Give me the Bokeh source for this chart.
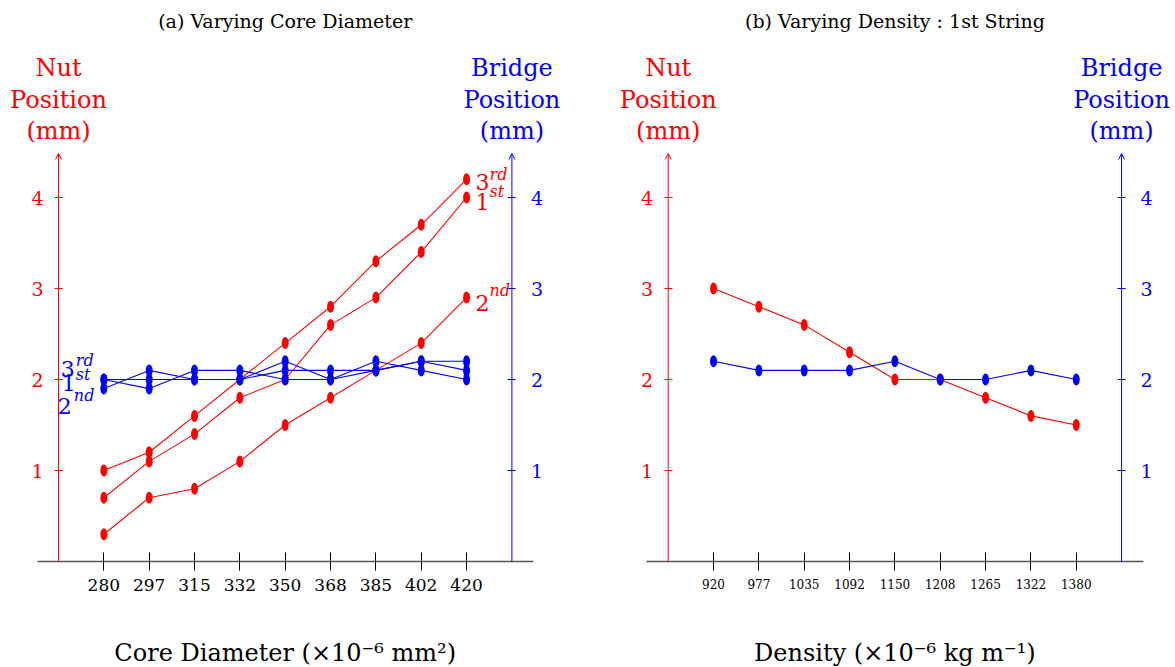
from bokeh.plotting import figure
from bokeh.models import Range1d, LinearAxis, FixedTicker, Label, Arrow, OpenHead
from bokeh.layouts import row
from bokeh.embed import file_html
from bokeh.resources import INLINE
from bokeh.core.properties import value

# ---------------- data ----------------
core_diameter = ["280", "297", "315", "332", "350", "368", "385", "402", "420"]
nut_core_3rd = [1.0, 1.2, 1.6, 2.0, 2.4, 2.8, 3.3, 3.7, 4.2]
nut_core_1st = [0.7, 1.1, 1.4, 1.8, 2.0, 2.6, 2.9, 3.4, 4.0]
nut_core_2nd = [0.3, 0.7, 0.8, 1.1, 1.5, 1.8, 2.1, 2.4, 2.9]
bridge_core_3rd = [2.0, 2.0, 2.0, 2.0, 2.2, 2.0, 2.2, 2.1, 2.0]
bridge_core_1st = [2.0, 1.9, 2.1, 2.1, 2.0, 2.0, 2.1, 2.2, 2.2]
bridge_core_2nd = [1.9, 2.1, 2.0, 2.0, 2.1, 2.1, 2.1, 2.2, 2.1]

density = ["920", "977", "1035", "1092", "1150", "1208", "1265", "1322", "1380"]
nut_density = [3.0, 2.8, 2.6, 2.3, 2.0, 2.0, 1.8, 1.6, 1.5]
bridge_density = [2.2, 2.1, 2.1, 2.1, 2.2, 2.0, 2.0, 2.1, 2.0]

y_ticks = [1, 2, 3, 4]

RED = "#ff0000"
BLUE = "#0000ff"
FONT = "DejaVu Serif"

H = 667
Y0_PX = 561.0        # pixel row of y = 0
PXU_Y = 91.0         # pixels per y unit
PXU_X = 45.34        # pixels per category step
LABEL_SHIFT = 8      # empirical baseline correction for texts


def py(px):
    """canvas pixel row -> data y (for placing texts)"""
    return (Y0_PX - px) / PXU_Y


def ly(px):
    return py(px - LABEL_SHIFT)


def make_panel(width, red_axis_px, cats, tick_size, title, xlabel, nut_list,
               bridge_list, nut_labels, bridge_labels):
    n = len(cats)
    idx = list(range(n))
    x0 = -1 - red_axis_px / PXU_X
    x1 = x0 + width / PXU_X
    p = figure(width=width, height=H,
               x_range=Range1d(x0, x1),
               y_range=Range1d(py(H), py(0)),
               x_axis_type=None, y_axis_type=None,
               min_border=0, min_border_left=0, min_border_right=0,
               min_border_top=0, min_border_bottom=0,
               output_backend="svg", toolbar_location=None)
    p.outline_line_color = None

    xaxis = LinearAxis(ticker=FixedTicker(ticks=idx), fixed_location=0,
                       bounds=(-1.47, n + 0.48),
                       major_label_overrides={i: c for i, c in enumerate(cats)},
                       axis_line_color="#555555", axis_line_width=1.6,
                       major_tick_line_color="black", major_tick_in=9, major_tick_out=9,
                       minor_tick_line_color=None,
                       major_label_text_font=FONT, major_label_text_font_size=tick_size,
                       major_label_standoff=8, major_label_text_color="black")
    p.add_layout(xaxis, "below")

    laxis = LinearAxis(ticker=FixedTicker(ticks=y_ticks), fixed_location=-1,
                       axis_line_color=None,
                       major_tick_line_color=RED, major_tick_in=4, major_tick_out=4,
                       minor_tick_line_color=None,
                       major_label_text_color=RED, major_label_text_font=FONT,
                       major_label_text_font_size="19px", major_label_standoff=11)
    p.add_layout(laxis, "left")

    raxis = LinearAxis(ticker=FixedTicker(ticks=y_ticks), fixed_location=n,
                       axis_line_color=None,
                       major_tick_line_color=BLUE, major_tick_in=4, major_tick_out=4,
                       minor_tick_line_color=None,
                       major_label_text_color=BLUE, major_label_text_font=FONT,
                       major_label_text_font_size="19px", major_label_standoff=15)
    p.add_layout(raxis, "right")

    for xa, col in ((-1, RED), (n, BLUE)):
        p.add_layout(Arrow(end=OpenHead(size=6, line_color=col, line_width=1),
                           x_start=xa, y_start=0, x_end=xa, y_end=py(153),
                           line_color=col, line_width=1))

    for series in nut_list:
        p.line(idx, series, line_color=RED, line_width=1.1)
        p.ellipse(x=idx, y=series, width=7, height=12, width_units="screen",
                  height_units="screen", fill_color=RED, line_color=None)
    for series in bridge_list:
        p.line(idx, series, line_color=BLUE, line_width=1.1)
        p.ellipse(x=idx, y=series, width=7, height=12, width_units="screen",
                  height_units="screen", fill_color=BLUE, line_color=None)

    # series labels
    for (xi, yv, digit, sup, dx, dy, sdx, sdy, col, align) in nut_labels + bridge_labels:
        p.text(x=[xi], y=[yv], text=[digit], x_offset=dx, y_offset=dy - LABEL_SHIFT,
               text_align=align, text_baseline="alphabetic",
               text_font=value(FONT), text_font_size=value("22px"), text_color=col)
        p.text(x=[xi], y=[yv], text=[sup], x_offset=sdx, y_offset=sdy - LABEL_SHIFT,
               text_align="left", text_baseline="alphabetic",
               text_font=value(FONT), text_font_style="italic",
               text_font_size=value("16px"), text_color=col)

    # texts around the plot
    p.add_layout(Label(x=(n - 1) / 2, y=ly(28), text=title, text_align="center",
                       text_baseline="alphabetic", text_font=FONT,
                       text_font_size="19px", text_color="black"))
    p.add_layout(Label(x=(n - 1) / 2, y=ly(660), text=xlabel, text_align="center",
                       text_baseline="alphabetic", text_font=FONT,
                       text_font_size="24px", text_color="black"))
    for xa, col, words in ((-1, RED, ["Nut", "Position", "(mm)"]),
                           (n, BLUE, ["Bridge", "Position", "(mm)"])):
        for w, base in zip(words, (75, 107, 138)):
            p.add_layout(Label(x=xa, y=ly(base), text=w, text_align="center",
                               text_baseline="alphabetic", text_font=FONT,
                               text_font_size="24px", text_color=col))
    return p


left_nut_labels = [
    (8, nut_core_3rd[-1], "3", "rd", 9, 11, 23, 3, RED, "left"),
    (8, nut_core_1st[-1], "1", "st", 9, 12, 23, 2, RED, "left"),
    (8, nut_core_2nd[-1], "2", "nd", 9, 13, 23, 1, RED, "left"),
]
left_bridge_labels = [
    (0, bridge_core_3rd[0], "3", "rd", -29, -3, -28, -11, BLUE, "right"),
    (0, bridge_core_1st[0], "1", "st", -28, 11, -28, 3, BLUE, "right"),
    (0, bridge_core_2nd[0], "2", "nd", -32, 25, -30, 15, BLUE, "right"),
]

left = make_panel(590, 58, core_diameter, "17px", "(a) Varying Core Diameter",
                  "Core Diameter (×10⁻⁶ mm²)",
                  [nut_core_3rd, nut_core_1st, nut_core_2nd],
                  [bridge_core_3rd, bridge_core_1st, bridge_core_2nd],
                  left_nut_labels, left_bridge_labels)
right = make_panel(585, 77.7, density, "12px", "(b) Varying Density : 1st String",
                   "Density (×10⁻⁶ kg m⁻¹)",
                   [nut_density], [bridge_density], [], [])

layout = row(left, right)
open("out.html", "w").write(file_html(layout, INLINE))
